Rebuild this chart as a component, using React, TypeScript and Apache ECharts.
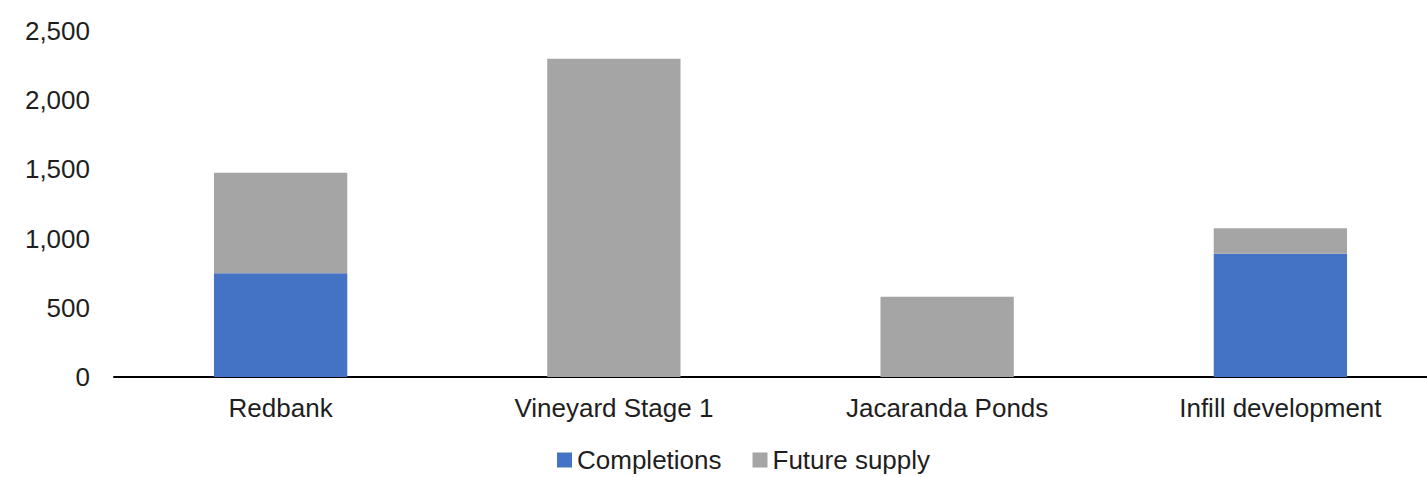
import React, { useEffect, useRef } from "react";
import * as echarts from "echarts";

const categories = ["Redbank", "Vineyard Stage 1", "Jacaranda Ponds", "Infill development"];
const completions = [750, 0, 0, 890];
const futureSupply = [725, 2300, 580, 185];
const yTicks = { min: 0, max: 2500, interval: 500 };

const FONT = "'Liberation Sans', Arial, sans-serif";
const TEXT = "#1e1e1e";

export default function App() {
  const ref = useRef<HTMLDivElement>(null);

  useEffect(() => {
    if (!ref.current) return;
    const chart = echarts.init(ref.current, undefined, { renderer: "svg" });
    chart.setOption({
      animation: false,
      textStyle: { fontFamily: FONT },
      grid: { left: 114, top: 31, bottom: 100, right: 0 },
      legend: {
        top: 447,
        left: 557,
        padding: 0,
        itemWidth: 15,
        itemHeight: 15,
        itemGap: 31,
        icon: "rect",
        textStyle: { fontSize: 26, lineHeight: 26, color: TEXT, fontFamily: FONT },
        data: ["Completions", "Future supply"],
      },
      xAxis: {
        type: "category",
        data: categories,
        axisLine: { lineStyle: { color: "#000", width: 2 } },
        axisTick: { show: false },
        axisLabel: { fontSize: 26, color: TEXT, margin: 18, interval: 0, fontFamily: FONT },
      },
      yAxis: {
        type: "value",
        min: yTicks.min,
        max: yTicks.max,
        interval: yTicks.interval,
        splitLine: { show: false },
        axisLine: { show: false },
        axisTick: { show: false },
        axisLabel: {
          fontSize: 26,
          color: TEXT,
          margin: 24,
          fontFamily: FONT,
          formatter: (v: number) => v.toLocaleString("en-US"),
        },
      },
      series: [
        {
          name: "Completions",
          type: "bar",
          stack: "total",
          barWidth: "40%",
          itemStyle: { color: "#4472C4" },
          data: completions,
        },
        {
          name: "Future supply",
          type: "bar",
          stack: "total",
          barWidth: "40%",
          itemStyle: { color: "#A5A5A5" },
          data: futureSupply,
        },
      ],
    });
    return () => chart.dispose();
  }, []);

  return (
    <div
      style={{
        position: "fixed",
        left: 0,
        top: 0,
        width: 1427,
        height: 477,
        overflow: "hidden",
        background: "#fff",
      }}
    >
      <div ref={ref} style={{ width: 1447, height: 477 }} />
    </div>
  );
}
